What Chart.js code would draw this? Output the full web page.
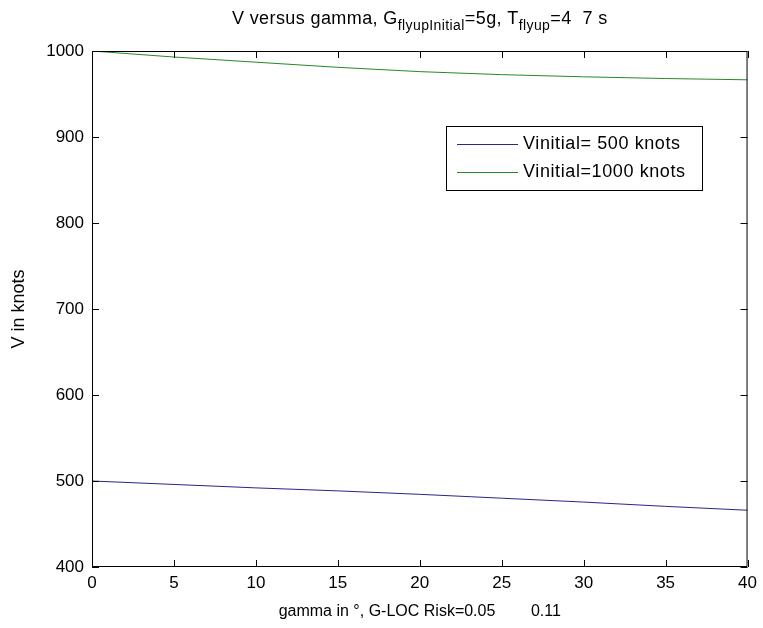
<!DOCTYPE html>
<html>
<head>
<meta charset="utf-8">
<script src="https://cdn.jsdelivr.net/npm/chart.js@4"></script>
<style>
  html, body { margin: 0; padding: 0; background: #fff; }
  canvas { display: block; }
</style>
</head>
<body>
<canvas id="v-chart" width="763" height="628"></canvas>
<script>
// Data
const gamma = [0, 5, 10, 15, 20, 25, 30, 35, 40];
const v500 = [500, 496, 492, 488.5, 484.5, 480, 475.5, 470.5, 466];
const v1000 = [1000, 993, 987, 981, 976, 972.5, 970, 968, 966.5];
const xTicks = [0, 5, 10, 15, 20, 25, 30, 35, 40];
const yTicks = [400, 500, 600, 700, 800, 900, 1000];
const seriesLabels = ["Vinitial= 500 knots", "Vinitial=1000 knots"];
const seriesColors = ["#27278a", "#238a2a"];
const xTitle = "gamma in \u00b0, G-LOC Risk=0.05        0.11";
const yTitle = "V in knots";
// title parts: [text, isSubscript]
const titleParts = [
  ["V versus gamma, G", false],
  ["flyupInitial", true],
  ["=5g, T", false],
  ["flyup", true],
  ["=4  7 s", false],
];

const FONT = "'Liberation Sans', Arial, sans-serif";

// Title with subscripts
const titlePlugin = {
  id: "subTitle",
  afterDraw(chart) {
    const ctx = chart.ctx;
    const area = chart.chartArea;
    ctx.save();
    ctx.fillStyle = "#000";
    ctx.textBaseline = "alphabetic";
    ctx.letterSpacing = "0.4px";
    let total = 0;
    const widths = titleParts.map(([t, sub]) => {
      ctx.font = (sub ? "14px " : "18px ") + FONT;
      const w = ctx.measureText(t).width;
      total += w;
      return w;
    });
    let x = (area.left + area.right) / 2 - total / 2;
    const baseY = 24;
    titleParts.forEach(([t, sub], i) => {
      ctx.font = (sub ? "14px " : "18px ") + FONT;
      ctx.fillText(t, x, sub ? baseY + 6 : baseY);
      x += widths[i];
    });
    ctx.restore();
  },
};

// MATLAB style box with inward ticks
const boxPlugin = {
  id: "axesBox",
  afterDatasetsDraw(chart) {
    const ctx = chart.ctx;
    const { left, right, top, bottom } = chart.chartArea;
    const xs = chart.scales.x;
    const ys = chart.scales.y;
    const len = 7;
    ctx.save();
    ctx.strokeStyle = "#000";
    ctx.lineWidth = 1;
    ctx.beginPath();
    ctx.rect(left + 0.5, top + 0.5, right - left - 1, bottom - top - 1);
    xTicks.forEach((v) => {
      const px = Math.round(xs.getPixelForValue(v)) + 0.5;
      ctx.moveTo(px, bottom);
      ctx.lineTo(px, bottom - len);
      ctx.moveTo(px, top);
      ctx.lineTo(px, top + len);
    });
    yTicks.forEach((v) => {
      const py = Math.round(ys.getPixelForValue(v)) + 0.5;
      ctx.moveTo(left, py);
      ctx.lineTo(left + len, py);
      ctx.moveTo(right, py);
      ctx.lineTo(right - len, py);
    });
    ctx.stroke();
    ctx.restore();
  },
};

// Legend box inside the axes
const legendPlugin = {
  id: "boxLegend",
  afterDraw(chart) {
    const ctx = chart.ctx;
    const boxLeft = 446;
    const boxTop = 126;
    const boxW = 256;
    const rowH = 28;
    ctx.save();
    ctx.fillStyle = "#fff";
    ctx.fillRect(boxLeft, boxTop, boxW, 64);
    ctx.strokeStyle = "#000";
    ctx.lineWidth = 1;
    ctx.strokeRect(boxLeft + 0.5, boxTop + 0.5, boxW, 64);
    ctx.font = "18px " + FONT;
    ctx.letterSpacing = "0.6px";
    chart.data.datasets.forEach((ds, i) => {
      const y = boxTop + 18 + i * rowH;
      ctx.strokeStyle = ds.borderColor;
      ctx.beginPath();
      ctx.moveTo(boxLeft + 11, y + 0.5);
      ctx.lineTo(boxLeft + 72, y + 0.5);
      ctx.stroke();
      ctx.fillStyle = "#000";
      ctx.textBaseline = "middle";
      ctx.fillText(ds.label, boxLeft + 77, y);
    });
    ctx.restore();
  },
};

const vChart = document.querySelector("#v-chart");
if (vChart) {
  new Chart(vChart, {
    type: "line",
    data: {
      datasets: [
        {
          label: seriesLabels[0],
          data: gamma.map((g, i) => ({ x: g, y: v500[i] })),
          borderColor: seriesColors[0],
        },
        {
          label: seriesLabels[1],
          data: gamma.map((g, i) => ({ x: g, y: v1000[i] })),
          borderColor: seriesColors[1],
        },
      ],
    },
    options: {
      responsive: false,
      animation: false,
      layout: {
        padding: { top: 51, right: 14, left: 0, bottom: 0 },
      },
      elements: {
        line: { borderWidth: 1, tension: 0 },
        point: { radius: 0 },
      },
      plugins: {
        legend: { display: false },
        tooltip: { enabled: false },
      },
      scales: {
        x: {
          type: "linear",
          min: 0,
          max: 40,
          grid: { display: false, drawTicks: false },
          border: { display: false },
          afterBuildTicks: (scale) => {
            scale.ticks = xTicks.map((v) => ({ value: v }));
          },
          afterFit: (scale) => {
            scale.height = 61;
          },
          ticks: {
            padding: 6,
            color: "#000",
            font: { family: FONT, size: 17 },
            maxRotation: 0,
            callback: (v) => String(v),
          },
          title: {
            display: true,
            text: xTitle,
            color: "#000",
            font: { family: FONT, size: 16 },
            padding: { top: 0, bottom: 7 },
          },
        },
        y: {
          type: "linear",
          min: 400,
          max: 1000,
          grid: { display: false, drawTicks: false },
          border: { display: false },
          afterBuildTicks: (scale) => {
            scale.ticks = yTicks.map((v) => ({ value: v }));
          },
          afterFit: (scale) => {
            scale.width = 92;
          },
          ticks: {
            padding: 8,
            color: "#000",
            font: { family: FONT, size: 17 },
            callback: (v) => String(v),
          },
          title: {
            display: true,
            text: yTitle,
            color: "#000",
            font: { family: FONT, size: 18 },
            padding: { top: 8, bottom: 0 },
          },
        },
      },
    },
    plugins: [titlePlugin, boxPlugin, legendPlugin],
  });
}
</script>
</body>
</html>
